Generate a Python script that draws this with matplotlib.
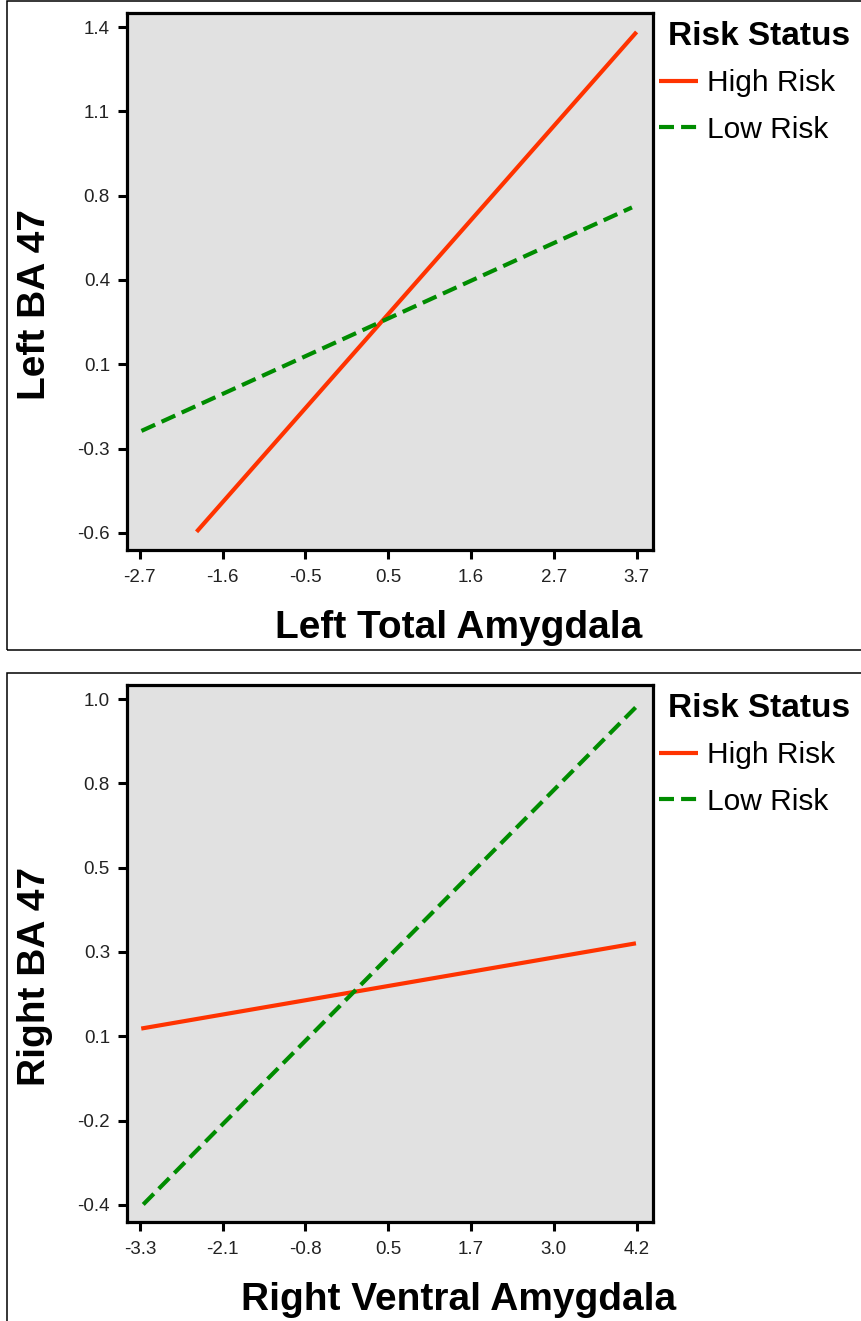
import numpy as np
import matplotlib
matplotlib.use('Agg')
import matplotlib.pyplot as plt
from matplotlib.patches import Rectangle

plt.rcParams['font.family'] = ['Liberation Sans', 'DejaVu Sans']

W, H = 862, 1321

# top panel: left hemisphere
left_x_ticks = ['-2.7', '-1.6', '-0.5', '0.5', '1.6', '2.7', '3.7']
left_y_ticks = ['-0.6', '-0.3', '0.1', '0.4', '0.8', '1.1', '1.4']
left_high_x = [-1.97, 3.70]
left_high_y = [-0.596, 1.381]
left_low_x = [-2.68, 3.64]
left_low_y = [-0.197, 0.687]

# bottom panel: right hemisphere
right_x_ticks = ['-3.3', '-2.1', '-0.8', '0.5', '1.7', '3.0', '4.2']
right_y_ticks = ['-0.4', '-0.2', '0.1', '0.3', '0.5', '0.8', '1.0']
right_high_x = [-3.28, 4.19]
right_high_y = [0.088, 0.324]
right_low_x = [-3.25, 4.19]
right_low_y = [-0.399, 0.978]

groups = ['High Risk', 'Low Risk']
RED = '#ff3300'
GREEN = '#008c00'
GRAY = '#e1e1e1'

fig = plt.figure(figsize=(W / 100, H / 100), dpi=100)


def px(x, y):
    # pixel position -> figure fraction
    return x / W, 1 - y / H


def draw_panel(off, xlabels, ylabels, hx, hy, lx, ly, xname, yname):
    # outer frame of the panel (top edge at frame_top px, bottom edge at frame_bot px)
    frame_top = 1 + off
    frame_bot = 650 + off if off == 0 else 1340
    fx, fy = px(7, frame_bot)
    fig.add_artist(Rectangle((fx, fy), 900 / W, (frame_bot - frame_top) / H,
                             transform=fig.transFigure, fill=False, lw=1.1, ec='black'))

    l, b = px(127, 550 + off)
    ax = fig.add_axes([l, b, 526 / W, 537 / H])
    ax.set_facecolor(GRAY)
    ax.plot(hx, hy, color=RED, lw=3, solid_capstyle='butt', label=groups[0])
    ax.plot(lx, ly, color=GREEN, lw=3, dashes=(3.6, 1.7), dash_capstyle='butt', label=groups[1])

    xt = np.linspace(float(xlabels[0]), float(xlabels[-1]), len(xlabels))
    yt = np.linspace(float(ylabels[0]), float(ylabels[-1]), len(ylabels))
    xs = xt[-1] - xt[0]
    ys = yt[-1] - yt[0]
    ax.set_xlim(xt[0] - 0.026 * xs, xt[-1] + 0.033 * xs)
    ax.set_ylim(yt[0] - 0.034 * ys, yt[-1] + 0.028 * ys)
    ax.set_xticks(xt, xlabels)
    ax.set_yticks(yt, ylabels)
    ax.tick_params(axis='both', direction='out', length=6.3, width=2.2, labelsize=13.5,
                   labelcolor='#222222')
    ax.tick_params(axis='x', pad=7.5)
    ax.tick_params(axis='y', pad=6)
    ax.tick_params(top=False, right=False)
    for sp in ax.spines.values():
        sp.set_linewidth(2.3)

    ax.set_xlabel(xname, fontsize=28, fontweight='bold')
    ax.xaxis.label.set(va='baseline', ha='center')
    ax.xaxis.set_label_coords((459 - 127) / 526, -(638 - 550) / 537)
    ax.set_ylabel(yname, fontsize=28, fontweight='bold')
    ax.yaxis.label.set(va='baseline', ha='center', rotation_mode='anchor')
    ax.yaxis.set_label_coords((45 - 127) / 526, 1 - (304 - 13) / 537)

    tx, ty = px(668, 45 + off)
    fig.text(tx, ty, 'Risk Status', fontsize=24, fontweight='bold', va='baseline', ha='left')
    lgx, lgy = px(659, 69 + off)
    ax.legend(loc='upper left', bbox_to_anchor=(lgx, lgy), bbox_transform=fig.transFigure,
              frameon=False, fontsize=21.5, handlelength=1.3, handletextpad=0.3,
              labelspacing=0.62, borderpad=0, borderaxespad=0)
    return ax


draw_panel(0, left_x_ticks, left_y_ticks, left_high_x, left_high_y, left_low_x, left_low_y,
           'Left Total Amygdala', 'Left BA 47')
draw_panel(672, right_x_ticks, right_y_ticks, right_high_x, right_high_y, right_low_x, right_low_y,
           'Right Ventral Amygdala', 'Right BA 47')

fig.savefig('out.png', dpi=100)
